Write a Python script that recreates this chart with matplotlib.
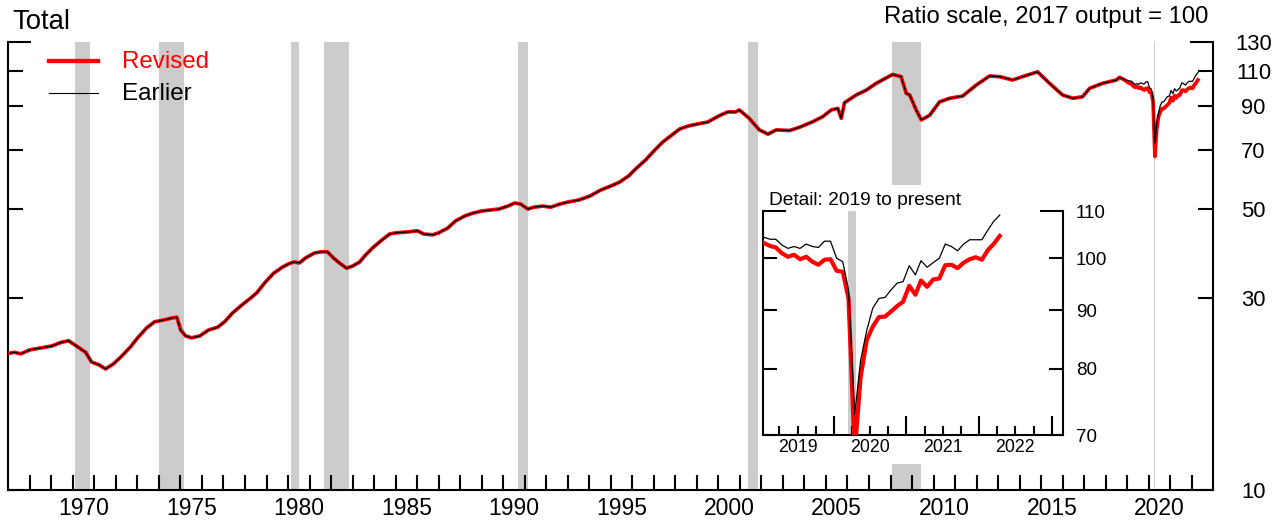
import matplotlib
matplotlib.use("Agg")
import matplotlib.pyplot as plt
from matplotlib.patches import Rectangle
from matplotlib.lines import Line2D
import pandas as pd

plt.rcParams['font.family'] = ['Liberation Sans', 'DejaVu Sans']

# ---------------- data ----------------
hist_years = [1967.08, 1967.29, 1967.57, 1967.99, 1968.50, 1969.01, 1969.47, 1969.80, 1970.22, 1970.59,
              1970.87, 1971.19, 1971.52, 1971.89, 1972.26, 1972.68, 1973.01, 1973.43, 1973.80, 1974.27,
              1974.64, 1974.83, 1975.01, 1975.24, 1975.52, 1975.89, 1976.31, 1976.73, 1977.05, 1977.42,
              1977.84, 1978.26, 1978.54, 1978.95, 1979.33, 1979.75, 1980.03, 1980.26, 1980.53, 1980.81,
              1981.23, 1981.51, 1981.83, 1982.11, 1982.44, 1982.72, 1983.00, 1983.33, 1983.60, 1983.93,
              1984.35, 1984.72, 1985.00, 1985.51, 1986.02, 1986.30, 1986.72, 1987.00, 1987.42, 1987.79,
              1988.21, 1988.58, 1989.00, 1989.42, 1989.79, 1990.21, 1990.53, 1990.81, 1991.14, 1991.42,
              1991.84, 1992.21, 1992.63, 1993.00, 1993.51, 1994.02, 1994.53, 1995.00, 1995.41, 1995.83,
              1996.20, 1996.62, 1997.04, 1997.41, 1997.83, 1998.20, 1998.61, 1999.03, 1999.50, 2000.01,
              2000.43, 2000.80, 2000.97, 2001.43, 2001.90, 2002.30, 2002.69, 2003.30, 2003.77, 2004.39,
              2004.85, 2005.24, 2005.55, 2005.71, 2005.86, 2006.40, 2006.87, 2007.33, 2007.80, 2008.10,
              2008.49, 2008.73, 2008.89, 2009.19, 2009.43, 2009.82, 2010.28, 2010.75, 2011.35, 2011.98,
              2012.60, 2013.06, 2013.67, 2014.13, 2014.83, 2015.39, 2015.99, 2016.46, 2016.92, 2017.25,
              2017.85, 2018.50, 2018.64, 2018.85]
hist_values = [21.9, 22.0, 21.8, 22.3, 22.55, 22.8, 23.3, 23.5, 22.7, 22.0,
               20.8, 20.5, 20.0, 20.6, 21.5, 22.7, 23.9, 25.3, 26.2, 26.5,
               26.8, 26.9, 25.0, 24.15, 23.9, 24.15, 25.0, 25.4, 26.2, 27.55,
               28.8, 30.0, 30.9, 32.9, 34.6, 35.85, 36.5, 36.9, 36.7, 37.75,
               38.85, 39.1, 39.1, 37.75, 36.5, 35.6, 36.05, 36.9, 38.4, 40.0,
               41.8, 43.3, 43.6, 43.8, 44.1, 43.3, 43.1, 43.6, 44.8, 46.7,
               48.0, 48.8, 49.4, 49.7, 49.95, 50.8, 51.7, 51.4, 49.95, 50.5,
               50.8, 50.5, 51.4, 52.0, 52.6, 53.8, 55.7, 57.0, 58.3, 60.4,
               63.2, 66.2, 70.0, 73.3, 76.3, 79.0, 80.4, 81.3, 82.2, 85.1,
               87.1, 87.1, 88.1, 84.0, 78.6, 76.7, 78.6, 78.3, 79.8, 82.4,
               84.8, 88.1, 88.9, 84.0, 91.8, 96.0, 98.7, 102.6, 105.9, 108.0,
               106.6, 96.9, 96.0, 88.1, 83.2, 85.5, 92.3, 94.2, 95.4, 101.6,
               107.0, 106.6, 104.6, 106.6, 109.6, 102.6, 96.0, 94.2, 95.0, 99.7,
               102.6, 104.6, 106.2, 104.8]

# Monthly, Jan 2019 - Apr 2022
recent_first_month = '2019-01-01'
recent_last_month = '2022-04-01'
recent_revised = [103.1, 102.5, 102.2, 101.0, 100.3, 100.7, 99.8, 100.3, 99.3, 98.7,
                  99.7, 99.8, 97.5, 97.3, 92.2, 67.5, 78.7, 84.8, 87.1, 88.8,
                  88.9, 89.8, 90.8, 91.6, 94.6, 92.9, 95.6, 94.4, 95.8, 96.0,
                  98.6, 98.7, 98.0, 99.1, 99.8, 100.2, 99.7, 101.7, 102.9, 104.6]
recent_earlier = [104.3, 103.9, 103.9, 102.7, 102.0, 102.4, 102.0, 102.9, 102.4, 102.2,
                  103.5, 103.5, 100.0, 99.3, 93.8, 72.9, 81.4, 86.5, 90.4, 92.2,
                  92.4, 93.8, 95.1, 95.4, 98.5, 96.7, 99.5, 98.2, 99.1, 100.0,
                  102.9, 102.4, 101.5, 102.9, 103.8, 103.8, 103.8, 105.9, 107.7, 109.1]

recession_start = [1970.08, 1974.00, 1980.16, 1981.65, 1990.68, 2001.37, 2008.08, 2020.24]
recession_end = [1970.81, 1975.15, 1980.50, 1982.82, 1991.14, 2001.83, 2009.42, 2020.30]
inset_recession = (2020.19, 2020.31)

main_yticks = [10, 30, 50, 70, 90, 110]
main_ytop = 130
year_ticks = list(range(1968, 2023))
year_labels = list(range(1970, 2021, 5))
inset_yticks = [70, 80, 90, 100]
inset_ytop = 110
inset_years = [2019, 2020, 2021, 2022]

# ---------------- derived ----------------
months = pd.date_range(recent_first_month, recent_last_month, freq='MS') + pd.Timedelta(days=14)
recent_x = [d.year + (d.dayofyear - 1) / (366 if d.is_leap_year else 365) for d in months]
rev_x = hist_years + recent_x
rev_y = hist_values + recent_revised
ear_y = hist_values + recent_earlier

W, H = 1283, 525
fig = plt.figure(figsize=(W / 100, H / 100), dpi=100)

def fx(px):
    return px / W

def fy(py):
    return 1 - py / H

RED = '#ff0000'
GRAY = '#cccccc'
SPW = 1.5
PT = 0.72  # points per pixel

ax = fig.add_axes([fx(8.3), fy(490), (1213.3 - 8.3) / W, 448 / H])
ax.set_yscale('log')
ax.set_xlim(1967.0, 2023.0)
ax.set_ylim(10, 130)
for s, e in zip(recession_start, recession_end):
    ax.axvspan(s, e, color=GRAY, lw=0, zorder=0.5)
# white background area behind the inset
ax.add_artist(Rectangle((fx(758), fy(464)), (1120 - 758) / W, (464 - 185) / H,
                        transform=fig.transFigure, facecolor='white', edgecolor='none',
                        zorder=1, clip_on=False))
ax.plot(rev_x, rev_y, color=RED, lw=2.7, zorder=3, solid_joinstyle='round')
ax.plot(rev_x, ear_y, color='black', lw=0.9, zorder=4)

for sp in ['left', 'right', 'bottom']:
    ax.spines[sp].set_linewidth(SPW)
ax.spines['top'].set_visible(False)

ax.set_yticks([main_ytop], labels=[str(main_ytop)])
ax.set_yticks(main_yticks, labels=[str(v) for v in main_yticks], minor=True)
ax.tick_params(axis='y', which='major', direction='in', length=23 * PT, width=SPW,
               left=True, right=True, labelleft=False, labelright=True, labelsize=15.8, pad=29)
ax.tick_params(axis='y', which='minor', direction='in', length=15 * PT, width=SPW,
               left=True, right=True, labelleft=False, labelright=True, labelsize=15.8, pad=29)
for t in ax.yaxis.get_major_ticks() + ax.yaxis.get_minor_ticks():
    t.label2.set_horizontalalignment('center')

ax.set_xticks(year_ticks, labels=[''] * len(year_ticks))
ax.set_xticks([y + 0.5 for y in year_labels], labels=[str(y) for y in year_labels], minor=True)
ax.tick_params(axis='x', which='major', direction='in', length=15 * PT, width=SPW, top=False)
ax.tick_params(axis='x', which='minor', length=0, labelsize=16.5, pad=5)

# titles and legend
fig.text(fx(12), fy(29.3), 'Total', fontsize=19.8, va='baseline', ha='left')
fig.text(fx(1208), fy(22.7), 'Ratio scale, 2017 output = 100', fontsize=17.2,
         va='baseline', ha='right')
fig.add_artist(Line2D([fx(49), fx(98)], [fy(61), fy(61)], color=RED, lw=3.1,
                      transform=fig.transFigure))
fig.add_artist(Line2D([fx(49), fx(98)], [fy(93), fy(93)], color='black', lw=0.8,
                      transform=fig.transFigure))
fig.text(fx(122), fy(62), 'Revised', color=RED, fontsize=17.4, va='center', ha='left')
fig.text(fx(122), fy(94), 'Earlier', color='black', fontsize=17.4, va='center', ha='left')

# ---------------- inset ----------------
axi = fig.add_axes([fx(762.7), fy(435), (1063.3 - 762.7) / W, (435 - 211) / H])
axi.set_facecolor('white')
axi.set_yscale('log')
axi.set_xlim(2019.02, 2023.16)
axi.set_ylim(70, 110)
axi.axvspan(*inset_recession, color=GRAY, lw=0, zorder=0.5)
axi.plot(recent_x, recent_revised, color=RED, lw=3.0, zorder=3, solid_joinstyle='round')
axi.plot(recent_x, recent_earlier, color='black', lw=0.9, zorder=4)
for sp in ['left', 'right', 'bottom']:
    axi.spines[sp].set_linewidth(SPW)
axi.spines['top'].set_visible(False)

axi.set_yticks([inset_ytop], labels=[str(inset_ytop)])
axi.set_yticks(inset_yticks, labels=[str(v) for v in inset_yticks], minor=True)
axi.tick_params(axis='y', which='major', direction='in', length=23 * PT, width=SPW,
                left=True, right=True, labelleft=False, labelright=True, labelsize=13.5, pad=9)
axi.tick_params(axis='y', which='minor', direction='in', length=14 * PT, width=SPW,
                left=True, right=True, labelleft=False, labelright=True, labelsize=13.5, pad=9)

year_starts = [y + 1 for y in inset_years]
quarters = [y + q for y in inset_years for q in (0.25, 0.5, 0.75)]
axi.set_xticks(year_starts, labels=[''] * len(year_starts))
axi.set_xticks(quarters, labels=[str(int(q)) if abs(q % 1 - 0.5) < 1e-6 else '' for q in quarters],
               minor=True)
axi.tick_params(axis='x', which='major', direction='in', length=19 * PT, width=SPW, top=False)
axi.tick_params(axis='x', which='minor', direction='in', length=9.5 * PT, width=SPW,
                labelsize=12.8, pad=3)

fig.text(fx(769.3), fy(205), 'Detail: 2019 to present', fontsize=13.8, va='baseline', ha='left')

fig.savefig('out.png', dpi=100)
